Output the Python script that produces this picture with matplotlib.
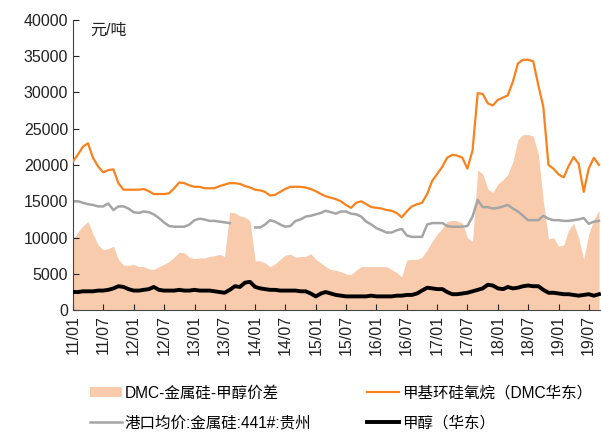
import matplotlib
matplotlib.use('Agg')
import matplotlib.pyplot as plt
import matplotlib.dates as mdates
import numpy as np
import pandas as pd

plt.rcParams['font.family'] = ['Liberation Sans', 'Noto Sans CJK SC']

# monthly readings, 2011-01 .. 2019-09
dates = pd.date_range('2011-01-01', periods=105, freq='MS')

dmc = [20500, 21500, 22500, 23000, 21000, 19800, 19000, 19300, 19400, 17500,
       16600, 16600, 16600, 16600, 16700, 16400, 16000, 16000, 16000, 16100,
       16800, 17600, 17500, 17200, 17000, 17000, 16800, 16800, 16800, 17100,
       17300, 17500, 17500, 17400, 17100, 16900, 16600, 16500, 16300, 15800,
       15900, 16300, 16700, 17000, 17000, 17000, 16900, 16700, 16400, 16000,
       15700, 15500, 15300, 15000, 14500, 14100, 14800, 15000, 14600, 14200,
       14100, 14000, 13800, 13700, 13400, 12800, 13600, 14300, 14600, 14800,
       16000, 17800, 18800, 19800, 21000, 21400, 21300, 21000, 19500, 22000,
       29900, 29800, 28500, 28200, 29000, 29300, 29600, 31500, 34000, 34500,
       34500, 34300, 31000, 28000, 20000, 19500, 18700, 18300, 19800, 21100,
       20200, 16300, 19500, 21000, 20000]

silicon = [15000, 15000, 14800, 14600, 14500, 14300, 14300, 14700, 13800, 14300,
           14300, 14000, 13500, 13400, 13600, 13500, 13200, 12700, 12100, 11600,
           11500, 11500, 11500, 11800, 12400, 12600, 12500, 12300, 12300, 12200,
           12100, 12000, np.nan, np.nan, np.nan, np.nan, 11400, 11400, 11800, 12400,
           12200, 11800, 11500, 11600, 12300, 12500, 12900, 13000, 13200, 13400,
           13700, 13500, 13300, 13600, 13600, 13300, 13200, 12900, 12200, 11800,
           11300, 11000, 10700, 10700, 11000, 11200, 10300, 10100, 10100, 10100,
           11800, 12000, 12000, 12000, 11600, 11500, 11500, 11500, 11600, 12900,
           15200, 14200, 14200, 14000, 14100, 14300, 14500, 14000, 13600, 13000,
           12400, 12400, 12400, 13000, 12600, 12400, 12400, 12300, 12300, 12400,
           12500, 12700, 11900, 12200, 12300]

spread = [9700, 10800, 11600, 12200, 10500, 9000, 8300, 8500, 8800, 7000,
          6200, 6200, 6300, 6000, 6000, 5700, 5600, 6000, 6300, 6700,
          7300, 8000, 7900, 7300, 7100, 7200, 7200, 7400, 7500, 7700,
          7400, 13500, 13400, 13000, 12800, 12300, 6800, 6800, 6500, 6000,
          6400, 7000, 7600, 7700, 7300, 7400, 7400, 7800, 7000, 6500,
          6000, 5600, 5500, 5300, 5000, 4900, 5500, 6000, 6000, 6000,
          6000, 6000, 6000, 5600, 5200, 4600, 6900, 7000, 7000, 7300,
          8300, 9500, 10500, 11300, 12200, 12400, 12300, 12000, 10000, 9500,
          19300, 18800, 16700, 16200, 17400, 18000, 18700, 20500, 23500, 24200,
          24200, 24000, 21500, 15000, 9800, 10000, 8800, 9000, 11000, 12000,
          10000, 7000, 10500, 12500, 13800]

methanol = [2500, 2500, 2600, 2600, 2600, 2700, 2700, 2800, 3000, 3300,
            3200, 2900, 2700, 2700, 2800, 2900, 3200, 2800, 2700, 2700,
            2700, 2800, 2700, 2700, 2800, 2700, 2700, 2700, 2600, 2500,
            2400, 2800, 3300, 3200, 3800, 3900, 3200, 3000, 2900, 2800,
            2800, 2700, 2700, 2700, 2700, 2600, 2600, 2300, 1900, 2300,
            2500, 2300, 2100, 2000, 1900, 1900, 1900, 1900, 1900, 2000,
            1900, 1900, 1900, 1900, 2000, 2000, 2100, 2100, 2300, 2700,
            3100, 3000, 2900, 2900, 2500, 2200, 2200, 2300, 2400, 2600,
            2800, 3000, 3500, 3400, 3000, 2900, 3200, 3000, 3100, 3300,
            3400, 3300, 3300, 2800, 2400, 2400, 2300, 2200, 2200, 2100,
            2000, 2100, 2200, 2000, 2200]

labels = ['DMC-金属硅-甲醇价差', '甲基环硅氧烷（DMC华东）',
          '港口均价:金属硅:441#:贵州', '甲醇（华东）']

fig = plt.figure(figsize=(6.01, 4.32), dpi=100)
ax = fig.add_axes([0.1215, 0.282, 0.8785, 0.672])

fill = ax.fill_between(dates, 0, spread, color='#F8CBAD', linewidth=0, zorder=1)
l_si, = ax.plot(dates, silicon, color='#A5A5A5', lw=1.8, zorder=2)
l_dmc, = ax.plot(dates, dmc, color='#F7821E', lw=1.6, zorder=3)
l_me, = ax.plot(dates, methanol, color='black', lw=2.8, zorder=4)

ax.set_ylim(0, 40000)
ax.set_yticks(np.arange(0, 40001, 5000))
ax.set_xlim(pd.Timestamp('2011-01-01'), pd.Timestamp('2019-09-13'))
ax.xaxis.set_major_locator(mdates.MonthLocator(bymonth=[1, 7]))
ax.xaxis.set_major_formatter(mdates.DateFormatter('%y/%m'))
ax.tick_params(axis='both', direction='in', labelsize=11.5, colors='#222222', length=4)
ax.tick_params(axis='x', rotation=90)
for s in ['top', 'right']:
    ax.spines[s].set_visible(False)
for s in ['left', 'bottom']:
    ax.spines[s].set_color('#444444')

ax.text(0.032, 0.965, '元/吨', transform=ax.transAxes, fontsize=11.5,
        va='center', ha='left', color='#222222')

fig.legend([fill, l_si, l_dmc, l_me],
           [labels[0], labels[2], labels[1], labels[3]],
           ncol=2, loc='center left', bbox_to_anchor=(0.126, 0.056),
           frameon=False, fontsize=11.2, handlelength=2.05, handletextpad=0.2,
           columnspacing=3.6, labelspacing=0.95)

fig.savefig('out.png', dpi=100)
